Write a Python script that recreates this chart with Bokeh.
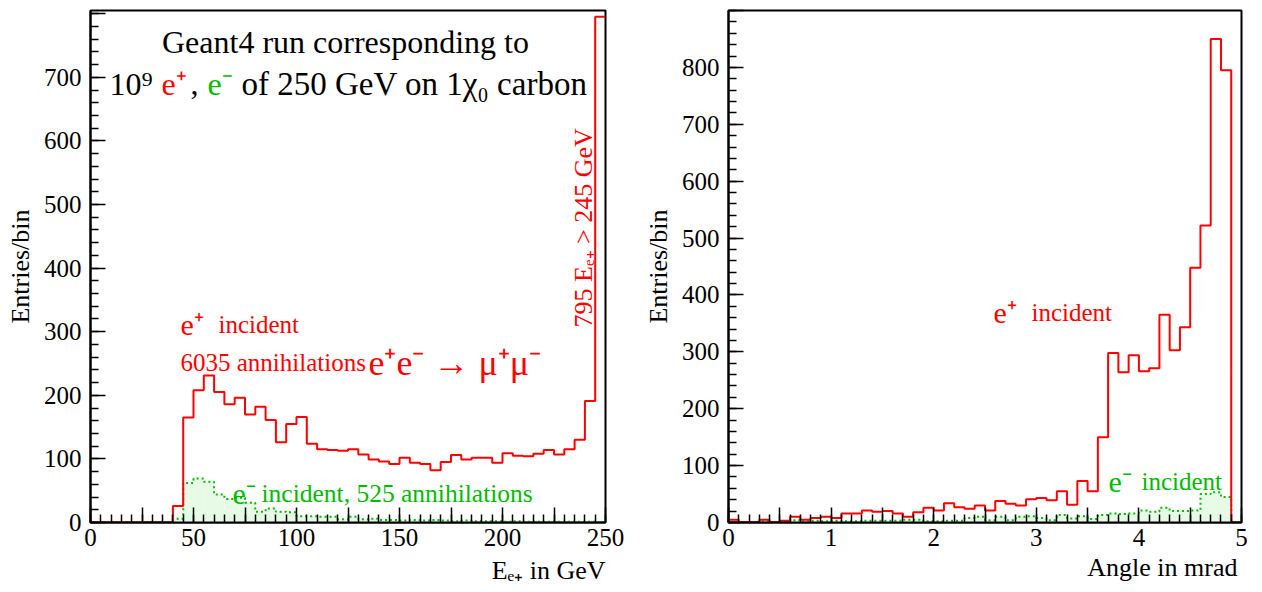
import numpy as np
from math import pi
from bokeh.plotting import figure
from bokeh.layouts import row
from bokeh.models import Label, SingleIntervalTicker, Range1d, Title
from bokeh.embed import file_html
from bokeh.resources import INLINE

# ---------------- data ----------------
energy_edges = np.arange(0, 255, 5)          # GeV, 50 bins of 5 GeV
angle_edges = np.round(np.arange(0, 5.05, 0.1), 2)  # mrad, 50 bins of 0.1

eplus_energy = [0, 0, 0, 0, 0, 0, 0, 0, 26, 165, 208, 231, 205, 186, 196, 170, 182, 161, 126, 155,
                166, 124, 115, 114, 113, 115, 107, 99, 96, 92, 102, 94, 92, 82, 95, 106, 99, 102, 102, 94,
                109, 105, 104, 108, 114, 107, 115, 130, 191, 795]
eminus_energy = [0, 0, 0, 0, 0, 0, 0, 0, 6, 62, 69, 64, 44, 37, 39, 31, 17, 22, 17, 16,
                 10, 10, 9, 9, 5, 9, 5, 6, 4, 4, 3, 4, 3, 4, 3, 2, 3, 2, 2, 2,
                 1, 2, 1, 1, 1, 1, 1, 1, 1, 0]
eplus_angle = [5, 1, 1, 5, 1, 3, 10, 5, 8, 10, 8, 16, 16, 21, 19, 20, 16, 10, 18, 26,
               21, 34, 27, 24, 30, 21, 38, 33, 30, 41, 43, 39, 55, 31, 73, 55, 150, 298, 264, 294,
               266, 271, 365, 303, 343, 448, 522, 850, 795, 0]
eminus_angle = [1, 0, 1, 2, 0, 1, 4, 2, 3, 2, 3, 2, 2, 3, 3, 3, 3, 5, 5, 2,
                2, 3, 3, 8, 10, 4, 10, 4, 10, 11, 8, 4, 13, 7, 11, 6, 13, 16, 15, 16,
                21, 19, 26, 20, 20, 21, 50, 53, 45, 0]

energy_ticks_hidden = [25, 75, 125, 175, 225]
angle_ticks_hidden = [0.5, 1.5, 2.5, 3.5, 4.5]

FONT = "Liberation Serif"
RED = "#ff0000"
GREEN = "#00bb00"
FILL = "#e6fae6"


def step_xy(edges, vals):
    xs = np.repeat(np.asarray(edges, dtype=float), 2)[1:-1]
    ys = np.repeat(np.asarray(vals, dtype=float), 2)
    return xs, ys


def style(p, xint, xminor, hidden, yint, yminor, yhidden, xtitle, xoffset, tstandoff):
    p.xgrid.visible = False
    p.ygrid.visible = False
    p.outline_line_color = "black"
    p.outline_line_width = 2
    p.background_fill_color = "white"
    p.border_fill_color = "white"
    p.xaxis.ticker = SingleIntervalTicker(interval=xint, num_minor_ticks=xminor)
    p.yaxis.ticker = SingleIntervalTicker(interval=yint, num_minor_ticks=yminor)
    p.xaxis.major_label_overrides = {h: "" for h in hidden}
    p.yaxis.major_label_overrides = {h: "" for h in yhidden}
    for ax in (p.xaxis[0], p.yaxis[0]):
        ax.axis_line_width = 2
        ax.major_tick_in = 15
        ax.major_tick_out = 0
        ax.minor_tick_in = 8
        ax.minor_tick_out = 0
        ax.major_tick_line_width = 1.5
        ax.minor_tick_line_width = 1.5
        ax.major_label_text_font = FONT
        ax.major_label_text_font_size = "25px"
        ax.major_label_text_color = "black"
        ax.axis_label_text_font = FONT
        ax.axis_label_text_font_size = "26px"
        ax.axis_label_text_font_style = "normal"
        ax.axis_label_text_color = "black"
    p.xaxis.major_label_standoff = 6
    p.yaxis.major_label_standoff = 9
    p.yaxis.axis_label = "Entries/bin"
    p.yaxis.axis_label_standoff = 6
    p.add_layout(Title(text=xtitle, align="right", offset=xoffset, text_font=FONT,
                       text_font_size="26px", text_font_style="normal",
                       text_color="black", standoff=tstandoff), "below")


def hist(p, edges, plus, minus):
    p.quad(left=edges[:-1], right=edges[1:], bottom=0, top=minus,
           fill_color=FILL, line_color=None)
    gx, gy = step_xy(edges, minus)
    p.line(gx, gy, line_color=GREEN, line_width=2, line_dash="2 3")
    rx, ry = step_xy(edges, plus)
    p.line(rx, ry, line_color=RED, line_width=2)


# ---------------- left panel ----------------
p1 = figure(width=640, height=592, x_range=Range1d(0, 250), y_range=Range1d(0, 805),
            output_backend="svg", toolbar_location=None,
            min_border_left=90, min_border_right=35, min_border_top=10, min_border_bottom=70)
style(p1, 25, 5, energy_ticks_hidden, 100, 5, [800], "Eₑ₊ in GeV", 0, 10)
hist(p1, energy_edges, eplus_energy, eminus_energy)


def Lx(px):
    return (px - 90) * 250 / 515


def Ly(py):
    return (522 - py) * 805 / 512


def lab(p, x, y, text, size, color="black", align="left", angle=0.0):
    p.add_layout(Label(x=x, y=y, text=text, text_font=FONT, text_font_size=size,
                       text_color=color, text_align=align, text_baseline="alphabetic",
                       angle=angle))


lab(p1, Lx(345), Ly(41), "Geant4 run corresponding to", "32px", align="center")
lab(p1, Lx(109), Ly(83), "10⁹", "32px")
lab(p1, Lx(161), Ly(83), "e⁺", "32px", RED)
lab(p1, Lx(190), Ly(83), ",", "32px")
lab(p1, Lx(207), Ly(83), "e⁻", "32px", GREEN)
lab(p1, Lx(241), Ly(83), "of 250 GeV on 1χ₀ carbon", "33px")

lab(p1, Lx(583), Ly(327), "795 Eₑ₊ > 245 GeV", "26px", RED, angle=pi / 2)

lab(p1, Lx(180), Ly(324), "e⁺", "30px", RED)
lab(p1, Lx(218), Ly(324), "incident", "25px", RED)
lab(p1, Lx(180), Ly(362), "6035 annihilations", "25px", RED)
lab(p1, Lx(368), Ly(362), "e⁺e⁻ → μ⁺μ⁻", "36px", RED)

lab(p1, Lx(232), Ly(493), "e⁻", "30px", GREEN)
lab(p1, Lx(261), Ly(493), "incident, 525 annihilations", "25.5px", GREEN)

# ---------------- right panel ----------------
p2 = figure(width=613, height=592, x_range=Range1d(0, 5), y_range=Range1d(0, 900),
            output_backend="svg", toolbar_location=None,
            min_border_left=88, min_border_right=12, min_border_top=10, min_border_bottom=67)
style(p2, 0.5, 5, angle_ticks_hidden, 100, 5, [900], "Angle in mrad", 4, 4)
hist(p2, angle_edges, eplus_angle, eminus_angle)


def Rx(px):
    return (px - 728) * 5 / 513


def Ry(py):
    return (525 - py) * 900 / 515


lab(p2, Rx(993), Ry(314), "e⁺", "30px", RED)
lab(p2, Rx(1031), Ry(314), "incident", "25px", RED)
lab(p2, Rx(1108), Ry(484), "e⁻", "30px", GREEN)
lab(p2, Rx(1141), Ry(484), "incident", "25px", GREEN)

layout = row(p1, p2)
open("out.html", "w").write(file_html(layout, INLINE))
